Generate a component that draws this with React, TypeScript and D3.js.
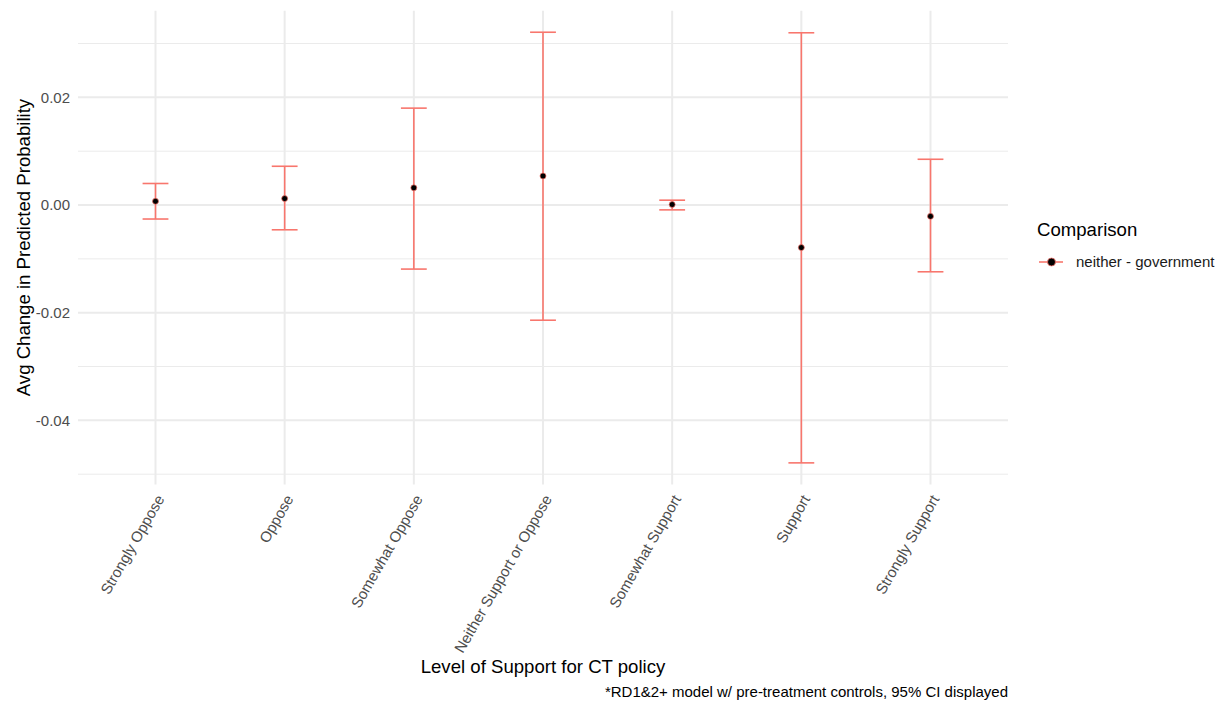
import React from "react";
import * as d3 from "d3";

// Ordered support levels along the x axis
const categories = [
  "Strongly Oppose",
  "Oppose",
  "Somewhat Oppose",
  "Neither Support or Oppose",
  "Somewhat Support",
  "Support",
  "Strongly Support",
];

// Average change in predicted probability (neither - government)
const estimates = [0.0007, 0.0012, 0.0032, 0.0054, 0.0001, -0.0079, -0.0021];
const lowerCI = [-0.0026, -0.0046, -0.0119, -0.0214, -0.0009, -0.0479, -0.0124];
const upperCI = [0.0040, 0.0072, 0.0180, 0.0321, 0.0009, 0.0320, 0.0085];

const majorTicks = [0.02, 0.0, -0.02, -0.04];
const minorTicks = [0.03, 0.01, -0.01, -0.03, -0.05];
const tickLabels = ["0.02", "0.00", "-0.02", "-0.04"];

const seriesName = "neither - government";
const legendTitle = "Comparison";
const xTitle = "Level of Support for CT policy";
const yTitle = "Avg Change in Predicted Probability";
const caption = "*RD1&2+ model w/ pre-treatment controls, 95% CI displayed";

const W = 1220;
const H = 703;
const panel = { left: 78, right: 1008, top: 10.7, bottom: 484.4 };
const RED = "#F8766D";
const GRID = "#EBEBEB";
const FONT = "'Liberation Sans', Arial, Helvetica, sans-serif";
const TICK_SIZE = 15;
const TITLE_SIZE = 18.6;

export default function App() {
  const lo = d3.min(lowerCI) as number;
  const hi = d3.max(upperCI) as number;
  const pad = (hi - lo) * 0.05;

  const y = d3
    .scaleLinear()
    .domain([lo - pad, hi + pad])
    .range([panel.bottom, panel.top]);

  // discrete axis: 0.6 unit expansion on each side
  const x = d3
    .scaleLinear()
    .domain([1 - 0.6, categories.length + 0.6])
    .range([panel.left, panel.right]);

  // error bar width of 0.2 category units
  const capHalf = x(1.1) - x(1);

  return (
    <div style={{ position: "absolute", left: 0, top: 0 }}>
      <svg width={W} height={H} style={{ display: "block", background: "#fff" }} fontFamily={FONT}>
        {/* minor horizontal grid */}
        {minorTicks.map((t) => (
          <line key={"mn" + t} x1={panel.left} x2={panel.right} y1={y(t)} y2={y(t)} stroke={GRID} strokeWidth={1} />
        ))}
        {/* major horizontal grid */}
        {majorTicks.map((t) => (
          <line key={"mj" + t} x1={panel.left} x2={panel.right} y1={y(t)} y2={y(t)} stroke={GRID} strokeWidth={2} />
        ))}
        {/* vertical grid */}
        {categories.map((c, i) => (
          <line key={"v" + c} x1={x(i + 1)} x2={x(i + 1)} y1={panel.top} y2={panel.bottom} stroke={GRID} strokeWidth={2} />
        ))}

        {/* y tick labels */}
        {majorTicks.map((t, i) => (
          <text key={"yl" + t} x={panel.left - 8} y={y(t)} dy="0.35em" textAnchor="end" fontSize={TICK_SIZE} fill="#4D4D4D">
            {tickLabels[i]}
          </text>
        ))}

        {/* error bars */}
        {categories.map((c, i) => {
          const cx = x(i + 1);
          return (
            <g key={"eb" + c} stroke={RED} strokeWidth={1.6}>
              <line x1={cx} x2={cx} y1={y(upperCI[i])} y2={y(lowerCI[i])} />
              <line x1={cx - capHalf} x2={cx + capHalf} y1={y(upperCI[i])} y2={y(upperCI[i])} />
              <line x1={cx - capHalf} x2={cx + capHalf} y1={y(lowerCI[i])} y2={y(lowerCI[i])} />
            </g>
          );
        })}

        {/* point estimates */}
        {categories.map((c, i) => (
          <circle key={"pt" + c} cx={x(i + 1)} cy={y(estimates[i])} r={3} fill="#000" stroke={RED} strokeWidth={0.7} />
        ))}

        {/* x tick labels, rotated 60 degrees */}
        {categories.map((c, i) => {
          const tx = x(i + 1);
          const ty = panel.bottom + 9;
          return (
            <text
              key={"xl" + c}
              transform={`translate(${tx},${ty}) rotate(-60)`}
              textAnchor="end"
              dy="0.72em"
              fontSize={TICK_SIZE}
              fill="#4D4D4D"
            >
              {c}
            </text>
          );
        })}

        {/* axis titles */}
        <text x={(panel.left + panel.right) / 2} y={673} textAnchor="middle" fontSize={TITLE_SIZE} fill="#000">
          {xTitle}
        </text>
        <text
          transform={`translate(30,${(panel.top + panel.bottom) / 2}) rotate(-90)`}
          textAnchor="middle"
          fontSize={TITLE_SIZE}
          fill="#000"
        >
          {yTitle}
        </text>

        {/* caption */}
        <text x={panel.right} y={697} textAnchor="end" fontSize={TICK_SIZE} fill="#000">
          {caption}
        </text>

        {/* legend */}
        <text x={1037} y={236} fontSize={TITLE_SIZE} fill="#000">
          {legendTitle}
        </text>
        <line x1={1039} x2={1063} y1={262} y2={262} stroke={RED} strokeWidth={1.6} />
        <circle cx={1051.5} cy={262} r={4} fill="#000" stroke={RED} strokeWidth={0.8} />
        <text x={1076} y={262} dy="0.35em" fontSize={TICK_SIZE} fill="#1a1a1a">
          {seriesName}
        </text>
      </svg>
    </div>
  );
}
